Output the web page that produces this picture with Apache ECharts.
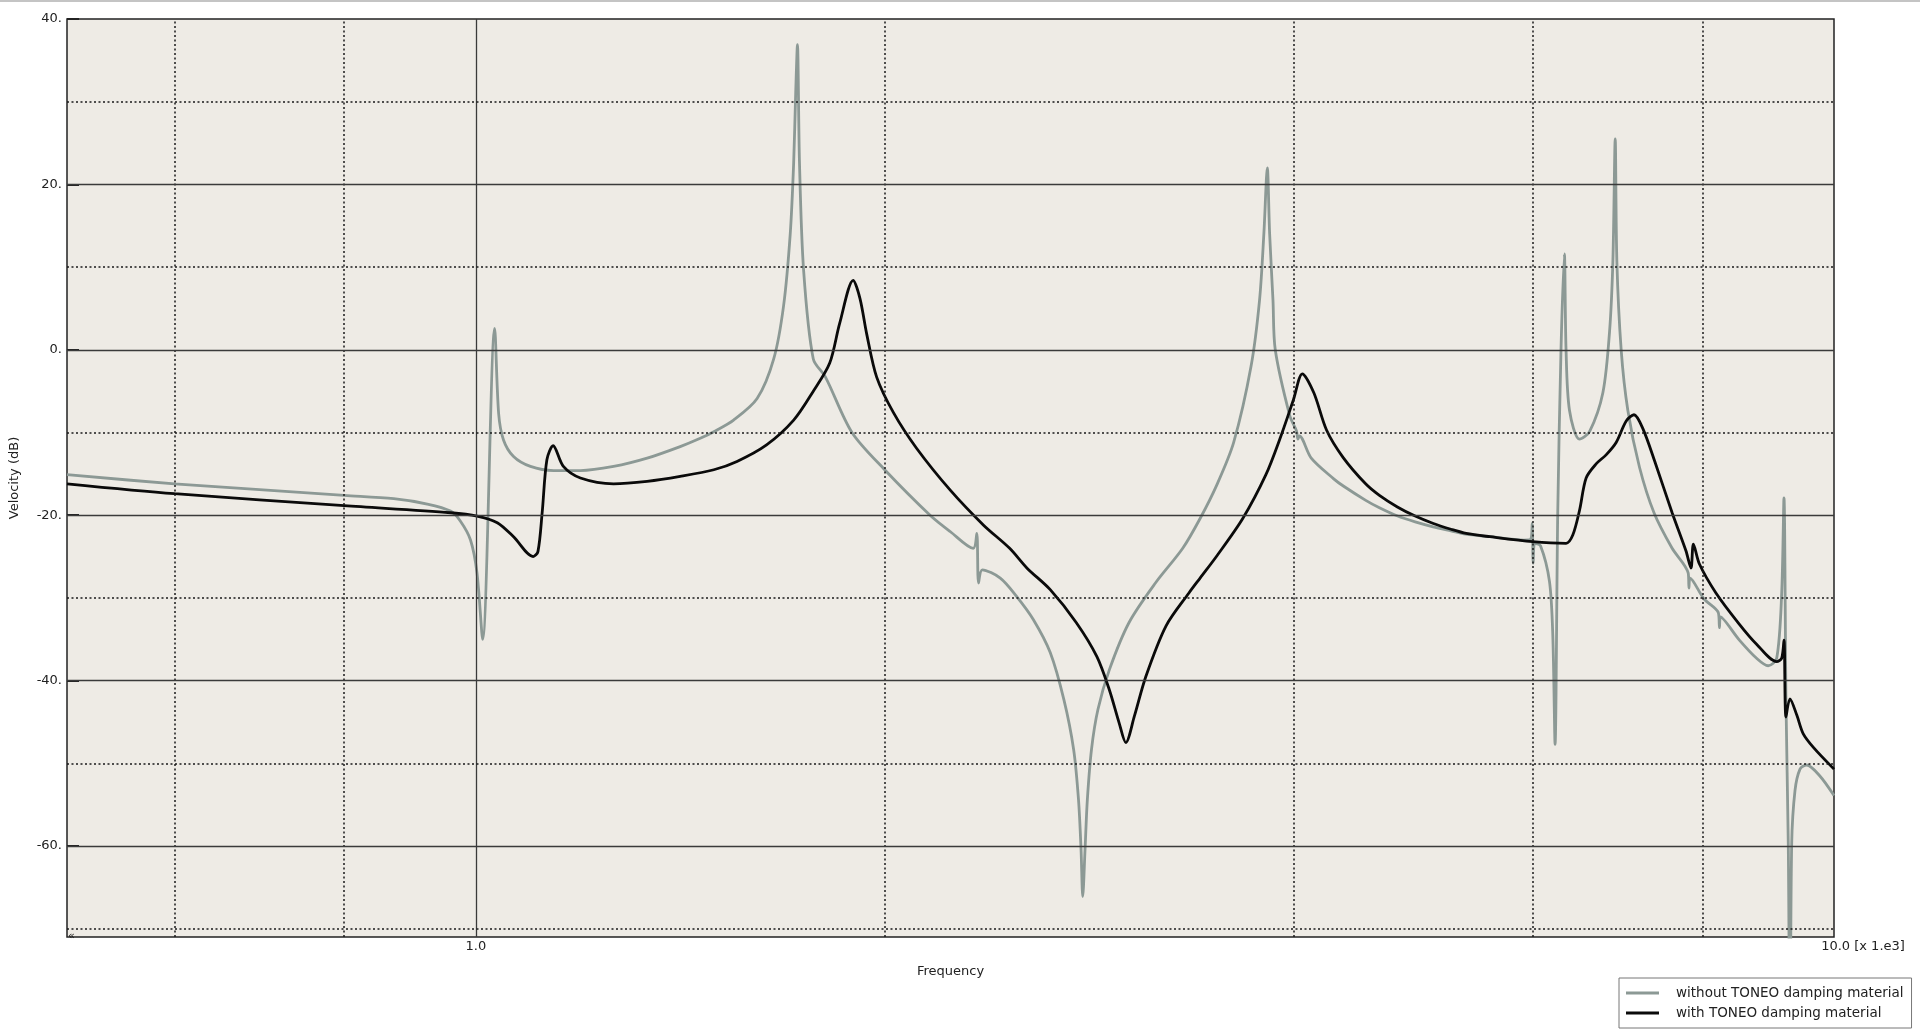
<!DOCTYPE html>
<html>
<head>
<meta charset="utf-8">
<script src="https://cdn.jsdelivr.net/npm/echarts@6/dist/echarts.min.js"></script>
<style>
html,body{margin:0;padding:0;background:#fff;}
#chart{width:1920px;height:1036px;}
</style>
</head>
<body>
<div id="chart"></div>
<script>
// ---- data (frequency in kHz, velocity in dB) ----
const withoutName = 'without TONEO damping material';
const withName = 'with TONEO damping material';

const withoutFreq = [0.5,0.6,0.8,0.87,0.921,0.958,0.974,0.991,1.002,1.0116,1.0324,1.0394,1.048,1.066,1.097,1.141,1.194,1.263,1.337,1.414,1.463,1.497,1.548,1.611,1.657,1.685,1.704,1.714,1.720,1.725,1.731,1.743,1.772,1.809,1.892,2.0,2.16,2.236,2.324,2.338,2.345,2.36,2.433,2.501,2.573,2.648,2.71,2.755,2.778,2.79,2.798,2.809,2.82,2.84,2.871,2.927,3.026,3.165,3.315,3.414,3.513,3.614,3.722,3.776,3.804,3.826,3.841,3.863,3.878,3.975,4.02,4.03,4.04,4.122,4.282,4.355,4.521,4.627,4.772,4.916,5.068,5.224,5.356,5.581,5.91,5.98,5.995,6.005,6.02,6.08,6.173,6.208,6.232,6.26,6.295,6.331,6.349,6.386,6.496,6.607,6.758,6.835,6.874,6.901,6.92,6.971,7.05,7.191,7.37,7.60,7.81,7.82,7.835,8.02,8.22,8.235,8.25,8.518,8.77,8.944,9.074,9.151,9.187,9.218,9.254,9.281,9.308,9.36,9.44,9.545,9.76,10];
const withoutDb = [-15.1,-16.2,-17.6,-18.0,-18.65,-19.5,-20.7,-23.0,-27.0,-35.0,2.6,-7.7,-10.9,-12.9,-14.1,-14.6,-14.6,-14.1,-13.1,-11.7,-10.7,-9.9,-8.5,-5.9,-1.1,5.35,14.0,22.6,31.2,36.9,22.6,9.7,-1.1,-3.3,-10.0,-14.5,-20.0,-22.0,-24.0,-22.2,-28.2,-26.6,-27.6,-29.8,-32.6,-36.6,-42.3,-48.3,-54.4,-60.4,-66.1,-60.4,-54.4,-48.3,-43.5,-38.7,-33.0,-28.2,-24.0,-20.4,-16.3,-11.2,-2.0,6.0,14.1,22.0,14.1,6.0,0.0,-8.0,-9.8,-10.8,-10.4,-13.1,-15.6,-16.5,-18.2,-19.1,-20.1,-20.8,-21.4,-21.9,-22.3,-22.6,-23.0,-22.9,-21.0,-25.8,-23.4,-23.7,-28.0,-34.5,-47.7,-19.9,0.0,11.6,0.0,-7.3,-10.8,-9.9,-5.2,2.2,10.8,25.5,10.8,0.0,-7.3,-14.2,-19.7,-24.0,-27.0,-28.8,-27.6,-30.1,-31.8,-33.6,-32.3,-35.1,-37.3,-38.2,-37.3,-29.5,-17.9,-42.5,-59.7,-85,-59.7,-53.3,-50.7,-50.2,-51.5,-53.9];

const withFreq = [0.5,0.6,0.8,0.958,1.002,1.037,1.066,1.102,1.111,1.119,1.128,1.14,1.16,1.194,1.263,1.337,1.414,1.497,1.557,1.637,1.714,1.772,1.822,1.853,1.896,1.918,1.94,1.973,2.03,2.111,2.236,2.365,2.472,2.546,2.648,2.768,2.866,2.927,2.976,3.01,3.054,3.114,3.222,3.35,3.414,3.513,3.67,3.817,3.91,4.0,4.06,4.14,4.23,4.35,4.52,4.627,4.77,4.916,5.07,5.224,5.36,5.581,6.0,6.349,6.422,6.496,6.569,6.681,6.795,6.912,7.031,7.124,7.231,7.38,7.6,7.78,7.847,7.879,7.96,8.186,8.51,8.77,9.074,9.151,9.187,9.218,9.28,9.39,9.49,9.66,10];
const withDb = [-16.2,-17.4,-18.85,-19.7,-20.1,-20.9,-22.6,-25.0,-24.4,-19.7,-13.3,-11.6,-14.1,-15.5,-16.2,-15.9,-15.3,-14.5,-13.5,-11.5,-8.5,-5.0,-1.6,3.2,8.4,6.2,1.9,-3.3,-7.6,-11.9,-17.0,-21.2,-24.0,-26.4,-29.0,-33.0,-37.1,-41.1,-45.1,-47.5,-44.3,-39.5,-33.4,-29.4,-27.6,-24.9,-20.4,-15.1,-10.7,-6.0,-2.9,-5.2,-9.7,-13.0,-16.2,-17.6,-19.0,-20.1,-21.0,-21.7,-22.2,-22.6,-23.2,-23.4,-22.4,-19.4,-15.5,-13.8,-12.7,-11.2,-8.6,-7.85,-9.5,-13.5,-19.7,-24.3,-26.4,-23.5,-25.9,-29.4,-33.1,-35.6,-37.7,-37.3,-35.1,-44.4,-42.2,-44.2,-46.4,-48.1,-50.7];

// axis / grid values
const xMin = 0.5, xMax = 10;
const yMin = -71, yMax = 40;
const xLabelValues = [1, 10];
const yLabelValues = [40, 20, 0, -20, -40, -60];
const xSolidLines = [1];
const xDottedLines = [0.6, 0.8, 2, 4, 6, 8];
const ySolidLines = [20, 0, -20, -40, -60];
const yDottedLines = [30, 10, -10, -30, -50, -70];

// ---- chart ----
const FONT = 'DejaVu Sans';
const chart = echarts.init(document.getElementById('chart'), null, {renderer: 'canvas'});

const pairs = (xs, ys) => xs.map((x, i) => [x, ys[i]]);
const solidStyle = {color: '#3a3a3a', width: 1.3, type: 'solid'};
const dotStyle = {color: '#1a1a1a', width: 1.5, type: [2, 2.5]};

const gridLineData = []
  .concat(xSolidLines.map(v => ({xAxis: v, lineStyle: solidStyle})))
  .concat(xDottedLines.map(v => ({xAxis: v, lineStyle: dotStyle})))
  .concat(ySolidLines.map(v => ({yAxis: v, lineStyle: solidStyle})))
  .concat(yDottedLines.map(v => ({yAxis: v, lineStyle: dotStyle})));

chart.setOption({
  animation: false,
  backgroundColor: '#ffffff',
  textStyle: {fontFamily: FONT},
  grid: {
    left: 67, right: 86, top: 19, bottom: 99,
    show: true, backgroundColor: '#eeebe5',
    borderColor: '#222', borderWidth: 1.5,
    containLabel: false, outerBoundsMode: 'none'
  },
  xAxis: {
    type: 'log', logBase: 10, min: xMin, max: xMax,
    name: 'Frequency', nameLocation: 'middle', nameGap: 28,
    nameTextStyle: {fontFamily: FONT, fontSize: 13, color: '#222'},
    axisLine: {show: false},
    axisTick: {show: false},
    splitLine: {show: false},
    minorSplitLine: {show: false},
    axisLabel: {
      customValues: xLabelValues,
      margin: 3,
      fontFamily: FONT, fontSize: 13, color: '#222',
      formatter: function (v) {
        return Math.abs(v - 1) < 0.01 ? '1.0' : '{r|10.0 [x 1.e3]}';
      },
      rich: {r: {fontFamily: FONT, fontSize: 13, color: '#222', padding: [0, 0, 0, 58]}}
    }
  },
  yAxis: {
    type: 'value', min: yMin, max: yMax,
    name: 'Velocity (dB)', nameLocation: 'middle', nameGap: 46, nameRotate: 90,
    nameTextStyle: {fontFamily: FONT, fontSize: 13, color: '#222'},
    axisLine: {show: false},
    splitLine: {show: false},
    axisTick: {
      show: true, inside: true, length: 12,
      customValues: yLabelValues,
      lineStyle: {color: '#222', width: 2}
    },
    axisLabel: {
      customValues: yLabelValues,
      margin: 5,
      fontFamily: FONT, fontSize: 13, color: '#222',
      formatter: v => v + '.'
    }
  },
  legend: {
    data: [withoutName, withName],
    orient: 'vertical',
    left: 1619, top: 978,
    backgroundColor: '#ffffff',
    borderColor: '#777', borderWidth: 1, borderRadius: 0,
    padding: [8, 8, 8, 7],
    itemGap: 6, itemWidth: 33, itemHeight: 3,
    icon: 'rect',
    selectedMode: false,
    textStyle: {fontFamily: FONT, fontSize: 13.5, color: '#222', padding: [0, 0, 0, 12]}
  },
  graphic: [
    {type: 'rect', left: 0, top: 0, shape: {width: 1920, height: 2}, style: {fill: '#c4c4c4'}, silent: true},
    {type: 'text', left: 68, top: 931, style: {text: '\u00ab', fontFamily: FONT, fontSize: 11, fill: '#111'}, silent: true, z: 100}
  ],
  series: [
    {
      name: '__grid', type: 'line', data: [], silent: true, z: 1,
      markLine: {
        silent: true, symbol: ['none', 'none'], animation: false,
        label: {show: false},
        emphasis: {disabled: true},
        data: gridLineData
      }
    },
    {
      name: withoutName, type: 'line', z: 3,
      data: pairs(withoutFreq, withoutDb),
      showSymbol: false, symbol: 'none', smooth: 0.3, clip: true,
      color: '#8c9995',
      lineStyle: {color: '#8c9995', width: 2.8},
      emphasis: {disabled: true}
    },
    {
      name: withName, type: 'line', z: 4,
      data: pairs(withFreq, withDb),
      showSymbol: false, symbol: 'none', smooth: 0.3, clip: true,
      color: '#0a0a0a',
      lineStyle: {color: '#0a0a0a', width: 2.8},
      emphasis: {disabled: true}
    }
  ]
});
</script>
</body>
</html>
